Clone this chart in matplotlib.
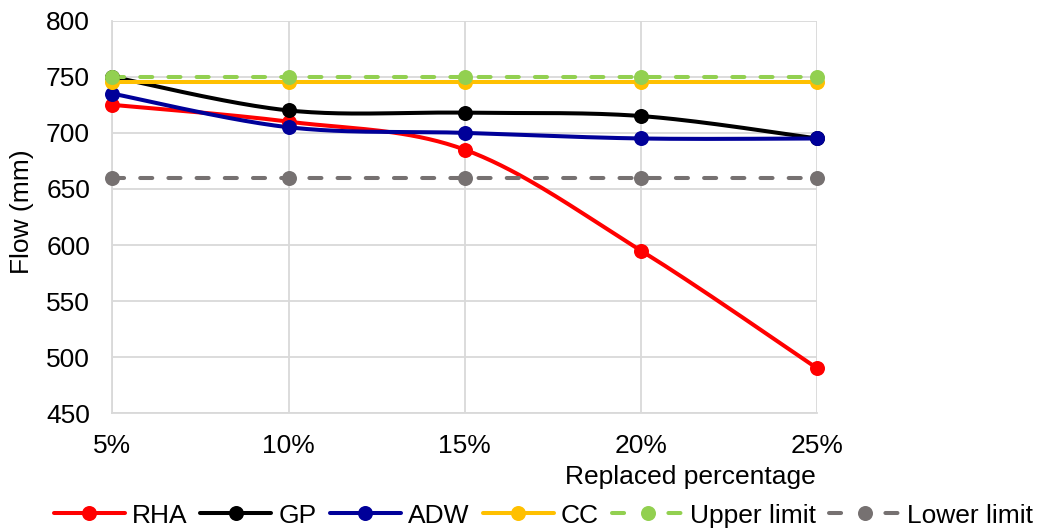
import numpy as np
import matplotlib
matplotlib.use("Agg")
import matplotlib.pyplot as plt
from matplotlib.lines import Line2D

plt.rcParams['font.family'] = ['Liberation Sans', 'DejaVu Sans']

categories = ["5%", "10%", "15%", "20%", "25%"]
rha = [725, 710, 685, 595, 490]
gp = [750, 720, 718, 715, 695]
adw = [735, 705, 700, 695, 695]
cc = [745, 745, 745, 745, 745]
upper_limit = [750, 750, 750, 750, 750]
lower_limit = [660, 660, 660, 660, 660]

DASH = (0, (3.0, 4.0))
series = [
    ("RHA", rha, "#FF0000", "-"),
    ("GP", gp, "#000000", "-"),
    ("ADW", adw, "#000099", "-"),
    ("CC", cc, "#FFC000", "-"),
    ("Upper limit", upper_limit, "#92D050", DASH),
    ("Lower limit", lower_limit, "#767171", DASH),
]

LW = 2.9
MS = 10.8
FS = 19


def smooth_curve(xs, ys, n=40):
    """Cubic Bezier smoothing through every point (spreadsheet-style)."""
    pts = np.column_stack([xs, ys]).astype(float)
    out = []
    m = len(pts)
    for i in range(m - 1):
        p0 = pts[i - 1] if i > 0 else pts[i]
        p1 = pts[i]
        p2 = pts[i + 1]
        p3 = pts[i + 2] if i + 2 < m else pts[i + 1]
        c1 = p1 + (p2 - p0) / 6.0
        c2 = p2 - (p3 - p1) / 6.0
        t = np.linspace(0, 1, n)[:, None]
        seg = ((1 - t) ** 3) * p1 + 3 * ((1 - t) ** 2) * t * c1 + 3 * (1 - t) * t ** 2 * c2 + t ** 3 * p2
        out.append(seg if i == 0 else seg[1:])
    seg = np.vstack(out)
    return seg[:, 0], seg[:, 1]


W, H = 1038, 530
fig = plt.figure(figsize=(W / 100, H / 100), dpi=100)
ax_l, ax_r, ax_t, ax_b = 112.3, 817.3, 20.7, 413.3
ax = fig.add_axes([ax_l / W, 1 - ax_b / H, (ax_r - ax_l) / W, (ax_b - ax_t) / H])

x = np.arange(len(categories))
handles = []
for name, vals, color, ls in series:
    sx, sy = smooth_curve(x, vals)
    ax.plot(sx, sy, color=color, lw=LW, ls=ls, solid_capstyle="round",
            dash_capstyle="round", zorder=3)
    ax.plot(x, vals, ls="none", marker="o", ms=MS, mew=0, color=color, zorder=4, clip_on=False)
    hls = "-" if ls == "-" else (0, (3.0, 11.0))
    handles.append(Line2D([0], [0], color=color, lw=LW, ls=hls, marker="o", ms=MS, mew=0,
                          solid_capstyle="round", dash_capstyle="round"))

ax.set_xlim(0, len(categories) - 1)
ax.set_ylim(450, 800)
ax.set_yticks(np.arange(450, 801, 50))
ax.set_xticks(x)
ax.set_xticklabels(categories)
ax.grid(True, color="#D9D9D9", lw=1.3, zorder=0)
for s in ["top", "right"]:
    ax.spines[s].set_visible(False)
for s in ["left", "bottom"]:
    ax.spines[s].set_color("#D9D9D9")
    ax.spines[s].set_linewidth(1.3)
ax.tick_params(length=0, labelsize=FS, colors="#000000")
ax.tick_params(axis="x", pad=15)
ax.tick_params(axis="y", pad=16)

fig.text(22.5 / W, 1 - 212 / H, "Flow (mm)", fontsize=FS, rotation=90, ha="center", va="center")
fig.text(690 / W, 1 - 477 / H, "Replaced percentage", fontsize=FS, ha="center", va="center")

fig.legend(handles, [s[0] for s in series], loc="center", bbox_to_anchor=(543.5 / W, 1 - 515.7 / H),
           ncol=6, frameon=False, fontsize=FS, handlelength=2.69, handletextpad=0.27,
           columnspacing=0.5, borderaxespad=0, borderpad=0)

fig.savefig("out.png", dpi=100)
